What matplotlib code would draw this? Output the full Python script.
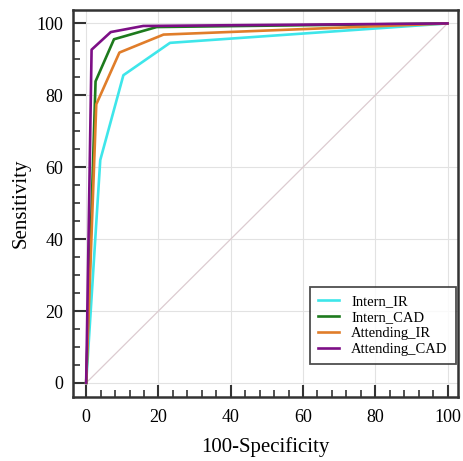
import matplotlib
matplotlib.use("Agg")
import matplotlib.pyplot as plt
from matplotlib.ticker import MultipleLocator

plt.rcParams['font.family'] = ['Liberation Serif', 'DejaVu Serif']

series_names = ["Intern_IR", "Intern_CAD", "Attending_IR", "Attending_CAD"]
intern_ir_x = [0, 3.9, 10.3, 23.2, 100]
intern_ir_y = [0, 62, 85.6, 94.6, 100]
intern_cad_x = [0, 2.6, 7.7, 19.5, 100]
intern_cad_y = [0, 83.9, 95.6, 99.0, 100]
attending_ir_x = [0, 2.8, 9.2, 21.4, 100]
attending_ir_y = [0, 77.5, 91.9, 96.9, 100]
attending_cad_x = [0, 1.5, 6.8, 15.8, 100]
attending_cad_y = [0, 92.7, 97.6, 99.3, 100]
x_ticks = [0, 20, 40, 60, 80, 100]
y_ticks = [0, 20, 40, 60, 80, 100]

colors = ['#3ee6ea', '#1d7a1d', '#e07d2a', '#7d0f86']

fig = plt.figure(figsize=(4.63, 4.61), dpi=100)
ax = fig.add_axes([0.158, 0.139, 0.832, 0.839])

ax.plot([0, 100], [0, 100], color='#dccbd0', lw=0.9, zorder=1)
data = [(intern_ir_x, intern_ir_y), (intern_cad_x, intern_cad_y),
        (attending_ir_x, attending_ir_y), (attending_cad_x, attending_cad_y)]
for (xs, ys), name, c in zip(data, series_names, colors):
    ax.plot(xs, ys, color=c, lw=1.9, label=name, zorder=3)

ax.set_xlim(-3.6, 103.0)
ax.set_ylim(-3.9, 103.7)
ax.set_xticks(x_ticks)
ax.set_yticks(y_ticks)
ax.xaxis.set_minor_locator(MultipleLocator(4))
ax.yaxis.set_minor_locator(MultipleLocator(5))
ax.grid(True, which='major', color='#e2e2e2', lw=0.8, zorder=0)
ax.set_axisbelow(True)

for s in ax.spines.values():
    s.set_color('#333333')
    s.set_linewidth(1.8)
ax.tick_params(which='major', direction='in', length=9, width=1.5, color='#333333',
               labelsize=13, top=False, right=False)
ax.tick_params(axis='x', which='major', pad=9)
ax.tick_params(axis='y', which='major', pad=7)
ax.tick_params(which='minor', direction='in', length=5, width=1.2, color='#333333',
               top=False, right=False)

ax.set_xlabel('100-Specificity', fontsize=15, labelpad=8)
ax.set_ylabel('Sensitivity', fontsize=15, labelpad=4)

leg = ax.legend(loc='lower right', fontsize=10.5, frameon=True, fancybox=False,
                edgecolor='#222222', handlelength=1.5, handletextpad=0.8,
                borderpad=0.55, labelspacing=0.17, borderaxespad=0,
                bbox_to_anchor=(0.993, 0.086))
leg.get_frame().set_linewidth(1.3)

fig.savefig('out.png', dpi=100)
